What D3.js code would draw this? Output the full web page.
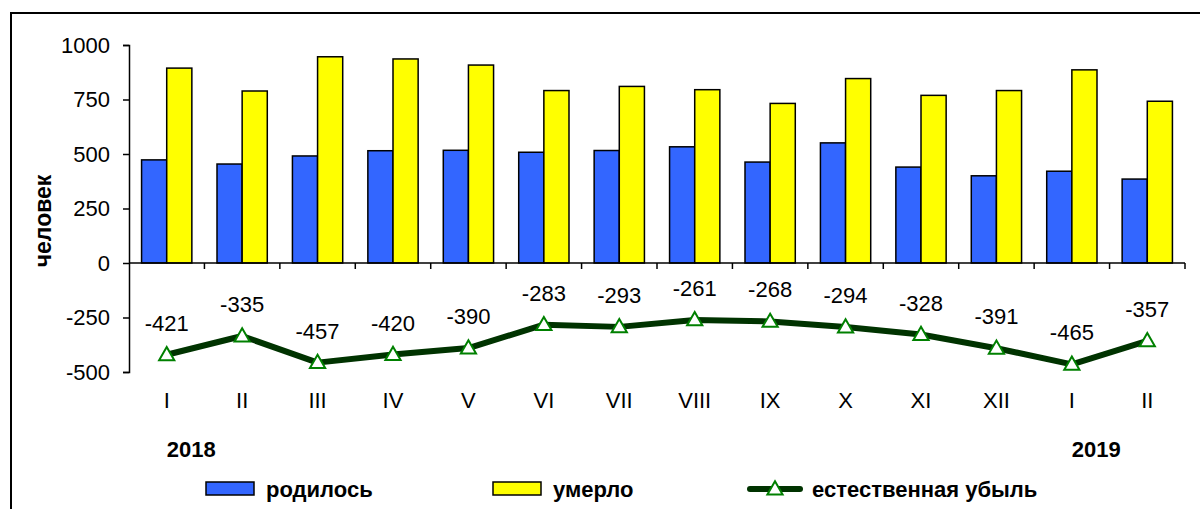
<!DOCTYPE html>
<html>
<head>
<meta charset="utf-8">
<script src="https://cdn.jsdelivr.net/npm/d3@7"></script>
<style>
    body { margin: 0; background: #fff; }
    svg { display: block; font-family: Arial, "Liberation Sans", sans-serif; }
</style>
</head>
<body>
<svg id="vis" width="1200" height="509"></svg>
<script>
// months (2018 I .. 2019 II)
const months = ["I", "II", "III", "IV", "V", "VI", "VII", "VIII", "IX", "X", "XI", "XII", "I", "II"];
const births = [473, 454, 491, 515, 517, 508, 516, 533, 463, 551, 440, 400, 421, 385];
const deaths = [894, 789, 946, 936, 908, 791, 810, 795, 732, 846, 769, 791, 886, 742];
const decrease = [-421, -335, -457, -420, -390, -283, -293, -261, -268, -294, -328, -391, -465, -357];
const yTicks = [-500, -250, 0, 250, 500, 750, 1000];
const years = [{label: "2018", idx: 0}, {label: "2019", idx: 12}];

const svg = d3.select('#vis');

// outer frame
svg.append("rect")
    .attr("x", 11).attr("y", 13)
    .attr("width", 1200).attr("height", 520)
    .attr("fill", "none")
    .attr("stroke", "#000")
    .attr("stroke-width", 2);

const idx = d3.range(months.length);

const x = d3.scaleBand()
    .domain(idx)
    .range([129, 1185]);

const y = d3.scaleLinear()
    .domain([-500, 1000])
    .range([372, 45]);

const inner = d3.scaleBand()
    .domain(["b", "d"])
    .range([0, x.bandwidth()])
    .paddingOuter(0.5);

// y axis
svg.append("g")
    .attr("transform", "translate(129,0)")
    .call(d3.axisLeft(y).tickValues(yTicks).tickSize(6).tickPadding(13)
        .tickFormat(function (d) { return String(d); }))
    .call(function (g) {
        g.select(".domain").attr("stroke-width", 1.5);
        g.selectAll(".tick line").attr("stroke-width", 1.5);
        g.selectAll("text")
            .attr("font-size", 22)
            .attr("font-family", "Arial, 'Liberation Sans', sans-serif")
            .attr("fill", "#000");
    });

svg.append("text")
    .attr("transform", "translate(51,221) rotate(-90)")
    .attr("text-anchor", "middle")
    .attr("font-size", 23)
    .attr("font-weight", "bold")
    .text("человек");

// bars
const groups = svg.selectAll(".month")
    .data(idx)
    .enter().append("g")
    .attr("class", "month")
    .attr("transform", function (i) {
        return "translate(" + x(i) + ",0)";
    });

groups.append("rect")
    .attr("x", inner("b"))
    .attr("y", function (i) { return y(births[i]); })
    .attr("width", inner.bandwidth())
    .attr("height", function (i) { return y(0) - y(births[i]); })
    .attr("fill", "#3366ff")
    .attr("stroke", "#000")
    .attr("stroke-width", 1.5);

groups.append("rect")
    .attr("x", inner("d"))
    .attr("y", function (i) { return y(deaths[i]); })
    .attr("width", inner.bandwidth())
    .attr("height", function (i) { return y(0) - y(deaths[i]); })
    .attr("fill", "#ffff00")
    .attr("stroke", "#000")
    .attr("stroke-width", 1.5);

// x axis at zero with boundary ticks
const zeroAxis = svg.append("g");
zeroAxis.append("line")
    .attr("x1", 129).attr("x2", 1185)
    .attr("y1", y(0)).attr("y2", y(0))
    .attr("stroke", "#000")
    .attr("stroke-width", 1.5);
zeroAxis.selectAll(".bt")
    .data(idx)
    .enter().append("line")
    .attr("x1", function (i) { return x(i) + x.bandwidth(); })
    .attr("x2", function (i) { return x(i) + x.bandwidth(); })
    .attr("y1", y(0))
    .attr("y2", y(0) + 6)
    .attr("stroke", "#000")
    .attr("stroke-width", 1.5);

// month labels
svg.selectAll(".mlab")
    .data(idx)
    .enter().append("text")
    .attr("x", function (i) { return x(i) + x.bandwidth() / 2; })
    .attr("y", 408)
    .attr("text-anchor", "middle")
    .attr("font-size", 22)
    .text(function (i) { return months[i]; });

svg.selectAll(".ylab")
    .data(years)
    .enter().append("text")
    .attr("x", function (d) { return x(d.idx) + x.bandwidth() / 2; })
    .attr("y", 457)
    .attr("font-size", 22)
    .attr("font-weight", "bold")
    .text(function (d) { return d.label; });

// natural decrease line
const cx = function (i) { return x(i) + x.bandwidth() / 2; };
const line = d3.line()
    .x(function (i) { return cx(i); })
    .y(function (i) { return y(decrease[i]); });

svg.append("path")
    .datum(idx)
    .attr("d", line)
    .attr("fill", "none")
    .attr("stroke", "#003300")
    .attr("stroke-width", 6)
    .attr("stroke-linejoin", "round");

const tri = d3.symbol().type(d3.symbolTriangle).size(100);

svg.selectAll(".pt")
    .data(idx)
    .enter().append("path")
    .attr("d", tri)
    .attr("transform", function (i) {
        return "translate(" + cx(i) + "," + (y(decrease[i]) + 1) + ")";
    })
    .attr("fill", "#fff")
    .attr("stroke", "#008000")
    .attr("stroke-width", 2);

svg.selectAll(".vlab")
    .data(idx)
    .enter().append("text")
    .attr("x", function (i) { return cx(i); })
    .attr("y", function (i) { return y(decrease[i]) - 24; })
    .attr("text-anchor", "middle")
    .attr("font-size", 22)
    .text(function (i) { return decrease[i]; });

// legend
const legend = svg.append("g");
legend.append("rect")
    .attr("x", 206).attr("y", 482).attr("width", 48).attr("height", 13)
    .attr("fill", "#3366ff").attr("stroke", "#000").attr("stroke-width", 1.5);
legend.append("text")
    .attr("x", 266).attr("y", 497)
    .attr("font-size", 22).attr("font-weight", "bold")
    .text("родилось");

legend.append("rect")
    .attr("x", 493).attr("y", 482).attr("width", 48).attr("height", 13)
    .attr("fill", "#ffff00").attr("stroke", "#000").attr("stroke-width", 1.5);
legend.append("text")
    .attr("x", 553).attr("y", 497)
    .attr("font-size", 22).attr("font-weight", "bold")
    .text("умерло");

legend.append("line")
    .attr("x1", 750).attr("x2", 800).attr("y1", 489).attr("y2", 489)
    .attr("stroke", "#003300").attr("stroke-width", 6).attr("stroke-linecap", "round");
legend.append("path")
    .attr("d", tri)
    .attr("transform", "translate(775,490)")
    .attr("fill", "#fff").attr("stroke", "#008000").attr("stroke-width", 2);
legend.append("text")
    .attr("x", 812).attr("y", 497)
    .attr("font-size", 22).attr("font-weight", "bold")
    .text("естественная убыль");
</script>
</body>
</html>
